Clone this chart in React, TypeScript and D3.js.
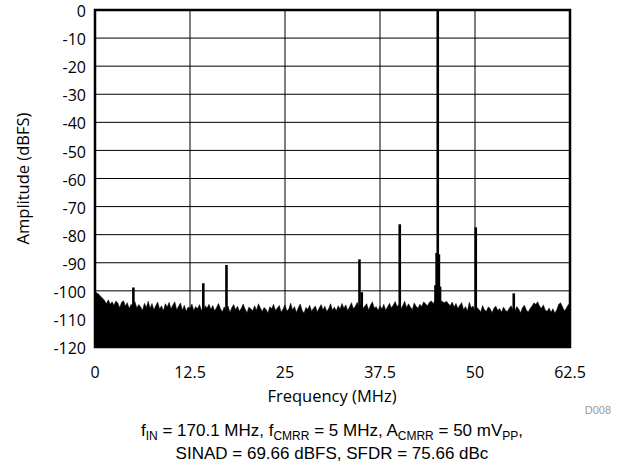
import React from "react";
import * as d3 from "d3";

// ---- data ----
const yTickValues = [0, -10, -20, -30, -40, -50, -60, -70, -80, -90, -100, -110, -120];
const xTickValues = [0, 12.5, 25, 37.5, 50, 62.5];
const xTickLabels = ["0", "12.5", "25", "37.5", "50", "62.5"];

// noise floor, one value every 0.25 MHz from 0 to 62.5 MHz (dBFS)
const noiseStepMHz = 0.25;
const noiseFloor = [
  -100.3, -100.8, -101.2, -102.0, -102.6, -103.4, -104.6, -103.2, -104.8, -103.9,
  -105.1, -103.6, -104.3, -106.0, -104.1, -103.5, -105.4, -104.2, -106.3, -104.8,
  -105.6, -103.8, -106.1, -104.9, -105.7, -107.0, -104.4, -105.9, -103.7, -106.2,
  -104.5, -106.8, -105.2, -104.0, -106.5, -105.3, -107.1, -104.6, -105.8, -104.1,
  -106.4, -105.0, -103.9, -106.7, -105.5, -104.3, -106.9, -105.1, -107.3, -105.8,
  -106.2, -104.7, -107.0, -105.6, -106.4, -104.9, -106.8, -107.4, -105.3, -106.1,
  -104.8, -106.6, -105.2, -107.2, -105.9, -104.5, -106.3, -107.5, -105.7, -106.9,
  -105.4, -107.6, -106.0, -104.9, -106.7, -105.5, -107.3, -106.2, -104.7, -106.5,
  -107.8, -105.8, -106.4, -107.1, -105.3, -106.9, -104.6, -106.0, -107.4, -105.9,
  -106.6, -107.9, -105.7, -106.3, -104.8, -107.0, -106.1, -105.2, -107.6, -106.4,
  -105.0, -107.2, -106.5, -104.4, -106.8, -105.6, -107.7, -106.0, -104.7, -106.9,
  -108.0, -105.9, -106.6, -105.1, -107.3, -106.2, -105.4, -107.5, -106.1, -104.9,
  -106.7, -105.5, -107.4, -106.3, -104.6, -106.9, -105.8, -107.1, -105.3, -106.5,
  -104.5, -106.2, -105.0, -107.0, -105.7, -104.2, -106.4, -105.5, -104.1, -105.9,
  -104.7, -106.3, -105.4, -104.6, -106.8, -105.1, -103.9, -106.2, -105.6, -107.0,
  -105.3, -106.5, -104.8, -106.9, -105.7, -104.4, -106.1, -105.0, -103.8, -105.6,
  -104.9, -106.4, -105.2, -103.7, -106.0, -104.6, -105.8, -106.7, -104.3, -105.5,
  -106.2, -104.8, -105.6, -103.9, -104.7, -105.3, -104.1, -103.6, -104.5, -103.4,
  -102.8, -103.0, -103.5, -103.9, -104.2, -103.7, -104.6, -105.3, -104.0, -105.8,
  -104.5, -106.3, -105.1, -104.2, -106.7, -105.6, -107.2, -104.1, -106.0, -105.4,
  -107.1, -105.9, -106.6, -107.5, -105.2, -106.8, -107.3, -105.7, -106.4, -107.8,
  -106.1, -105.5, -107.0, -106.3, -107.6, -105.8, -106.9, -107.4, -106.2, -105.3,
  -106.7, -107.2, -105.6, -106.5, -107.8, -106.0, -105.1, -106.8, -107.5, -106.3,
  -105.4, -104.3, -104.8, -103.9, -105.5, -106.2, -105.0, -106.9, -107.3, -106.1,
  -107.6, -106.4, -107.9, -106.8, -104.9, -104.2, -105.6, -107.1, -106.3, -105.0,
  -104.6,
];

// spurs and tones (MHz, dBFS)
const spurFreqs = [5.05, 14.25, 17.3, 34.8, 35.1, 40.1, 44.8, 44.95, 45.1, 45.25, 45.4, 50.1, 55.1];
const spurAmps = [-98.8, -97.3, -90.8, -88.8, -100.5, -76.3, -98.0, -86.5, 0, -87.0, -98.5, -77.4, -100.9];

export default function App() {
  const W = 617;
  const H = 469;
  const left = 95, right = 570, top = 10, bottom = 347;

  const x = d3.scaleLinear().domain([0, 62.5]).range([left, right]);
  const y = d3.scaleLinear().domain([-120, 0]).range([bottom, top]);

  const area = d3
    .area<number>()
    .x((_, i) => x(i * noiseStepMHz))
    .y0(y(-120))
    .y1((d) => y(d))
    .curve(d3.curveLinear);

  const tickFont = "'Open Sans', Lato, sans-serif";
  const capFont = "'Liberation Sans', Arial, sans-serif";

  return (
    <svg
      width={W}
      height={H}
      style={{ position: "fixed", left: 0, top: 0, background: "#fff" }}
    >
      <rect x={0} y={0} width={W} height={H} fill="#fff" />
      {/* horizontal grid */}
      {yTickValues
        .filter((v) => v !== 0 && v !== -120)
        .map((v) => (
          <line key={"hg" + v} x1={left} x2={right} y1={y(v)} y2={y(v)} stroke="#000" strokeWidth={1} />
        ))}
      {/* vertical grid */}
      {xTickValues
        .filter((v) => v !== 0 && v !== 62.5)
        .map((v) => (
          <line key={"vg" + v} x1={x(v)} x2={x(v)} y1={top} y2={bottom} stroke="#000" strokeWidth={1} />
        ))}

      {/* noise floor */}
      <path d={area(noiseFloor) || ""} fill="#000" stroke="#000" strokeWidth={0.5} />

      {/* spurs */}
      {spurFreqs.map((f, i) => (
        <line
          key={"sp" + i}
          x1={x(f)}
          x2={x(f)}
          y1={y(-120)}
          y2={y(spurAmps[i])}
          stroke="#000"
          strokeWidth={2.6}
        />
      ))}

      {/* frame */}
      <rect x={left} y={top} width={right - left} height={bottom - top} fill="none" stroke="#000" strokeWidth={2.5} />

      {/* y tick labels */}
      {yTickValues.map((v) => (
        <text
          key={"yt" + v}
          x={86}
          y={y(v) + 1.5}
          dy="0.35em"
          textAnchor="end"
          fontFamily={tickFont}
          fontSize={16}
          fill="#000"
        >
          {v}
        </text>
      ))}

      {/* x tick labels */}
      {xTickValues.map((v, i) => (
        <text
          key={"xt" + v}
          x={x(v)}
          y={372}
          dy="0.35em"
          textAnchor="middle"
          fontFamily={tickFont}
          fontSize={16}
          fill="#000"
        >
          {xTickLabels[i]}
        </text>
      ))}

      {/* axis titles */}
      <text
        x={332}
        y={396}
        dy="0.35em"
        textAnchor="middle"
        fontFamily={tickFont}
        fontSize={16.5}
        fill="#000"
      >
        Frequency (MHz)
      </text>
      <text
        transform={`translate(23,${(top + bottom) / 2}) rotate(-90)`}
        textAnchor="middle"
        dy="0.35em"
        fontFamily={tickFont}
        fontSize={16.5}
        fill="#000"
      >
        Amplitude (dBFS)
      </text>

      <text x={611} y={410} dy="0.35em" textAnchor="end" fontFamily={capFont} fontSize={11} fill="#999">
        D008
      </text>

      {/* caption */}
      <text x={332} y={436} textAnchor="middle" fontFamily={capFont} fontSize={17} fill="#000">
        f<tspan dy={4} fontSize={12}>IN</tspan>
        <tspan dy={-4}> = 170.1 MHz, f</tspan>
        <tspan dy={4} fontSize={12}>CMRR</tspan>
        <tspan dy={-4}> = 5 MHz, A</tspan>
        <tspan dy={4} fontSize={12}>CMRR</tspan>
        <tspan dy={-4}> = 50 mV</tspan>
        <tspan dy={4} fontSize={12}>PP</tspan>
        <tspan dy={-4}>,</tspan>
      </text>
      <text x={332} y={459} textAnchor="middle" fontFamily={capFont} fontSize={17} fill="#000">
        SINAD = 69.66 dBFS, SFDR = 75.66 dBc
      </text>
    </svg>
  );
}
